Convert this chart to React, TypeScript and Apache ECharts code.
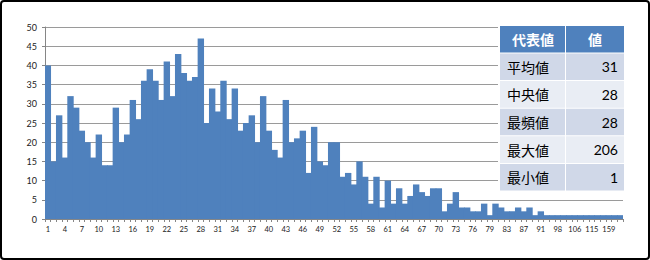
import React, { useEffect, useRef } from "react";
import * as echarts from "echarts";

const categories = [
  "1","2","3","4","5","6","7","8","9","10","11","12","13","14","15","16","17","18","19","20",
  "21","22","23","24","25","26","27","28","29","30","31","32","33","34","35","36","37","38","39","40",
  "41","42","43","44","45","46","47","48","49","50","51","52","53","54","55","56","57","58","59","60",
  "61","62","63","64","65","66","67","68","69","70","71","72","73","74","75","76","77","78","79",
  "80","81","83","84","86","87","89","90","91","93","95","98","100","103","106","108","111","115",
  "121","133","159","180","206",
];

const counts = [
  40, 15, 27, 16, 32, 29, 23, 20, 16, 22, 14, 14, 29, 20, 22, 31, 26, 36, 39, 36,
  31, 41, 32, 43, 38, 36, 37, 47, 25, 34, 28, 36, 26, 34, 23, 25, 27, 20, 32, 23,
  18, 16, 31, 20, 21, 23, 12, 24, 15, 14, 20, 20, 11, 12, 9, 15, 11, 4, 11, 3,
  10, 4, 8, 4, 6, 9, 7, 6, 8, 8, 2, 4, 7, 3, 3, 2, 2, 4, 1,
  4, 3, 2, 2, 3, 2, 3, 1, 2, 1, 1, 1, 1, 1, 1, 1, 1, 1,
  1, 1, 1, 1, 1,
];

const yTicks = [0, 50, 5]; // min, max, interval

const tableHeader = ["代表値", "値"];
const statNames = ["平均値", "中央値", "最頻値", "最大値", "最小値"];
const statValues = [31, 28, 28, 206, 1];

const BLUE = "#4F81BD";
const ROW_DARK = "#D0D8E8";
const ROW_LIGHT = "#E9EDF4";
const JP_FONT = '"Noto Sans CJK JP", "Noto Sans", sans-serif';
const NUM_FONT = 'Lato, "Liberation Sans", sans-serif';

function buildTable(): any[] {
  const x0 = 500;
  const c1w = 66;
  const c2w = 58;
  const headY = 26;
  const headH = 26.5;
  const rowH = 27.6;
  const els: any[] = [];
  els.push({
    type: "rect",
    shape: { x: x0 - 2, y: headY - 1, width: c1w + c2w + 3, height: headH + rowH * statNames.length + 3 },
    style: { fill: "#fff" },
    z: 100,
  });
  els.push({ type: "rect", shape: { x: x0, y: headY, width: c1w - 1, height: headH }, style: { fill: BLUE }, z: 101 });
  els.push({ type: "rect", shape: { x: x0 + c1w, y: headY, width: c2w, height: headH }, style: { fill: BLUE }, z: 101 });
  els.push({
    type: "text", z: 102,
    style: { text: tableHeader[0], x: x0 + c1w / 2, y: headY + headH / 2, fill: "#fff", fontSize: 14, fontWeight: "bold", fontFamily: JP_FONT, textAlign: "center", textVerticalAlign: "middle" },
  });
  els.push({
    type: "text", z: 102,
    style: { text: tableHeader[1], x: x0 + c1w + c2w / 2, y: headY + headH / 2, fill: "#fff", fontSize: 14, fontWeight: "bold", fontFamily: JP_FONT, textAlign: "center", textVerticalAlign: "middle" },
  });
  statNames.forEach((name, i) => {
    const y = headY + headH + 1 + i * rowH;
    const fill = i % 2 === 0 ? ROW_DARK : ROW_LIGHT;
    els.push({ type: "rect", shape: { x: x0, y, width: c1w - 1, height: rowH - 1 }, style: { fill }, z: 101 });
    els.push({ type: "rect", shape: { x: x0 + c1w, y, width: c2w, height: rowH - 1 }, style: { fill }, z: 101 });
    els.push({
      type: "text", z: 102,
      style: { text: name, x: x0 + 7, y: y + (rowH - 1) / 2, fill: "#000", fontSize: 14, fontFamily: JP_FONT, textAlign: "left", textVerticalAlign: "middle" },
    });
    els.push({
      type: "text", z: 102,
      style: { text: String(statValues[i]), x: x0 + c1w + c2w - 6, y: y + (rowH - 1) / 2, fill: "#000", fontSize: 14, fontFamily: NUM_FONT, textAlign: "right", textVerticalAlign: "middle" },
    });
  });
  return els;
}

export default function App() {
  const ref = useRef<HTMLDivElement>(null);
  useEffect(() => {
    if (!ref.current) return;
    const chart = echarts.init(ref.current, undefined, { renderer: "svg" });
    chart.setOption({
      animation: false,
      backgroundColor: "#fff",
      grid: { left: 45, right: 27, top: 27, bottom: 41, containLabel: false },
      xAxis: {
        type: "category",
        data: categories,
        boundaryGap: true,
        axisLine: { show: true, lineStyle: { color: "#868686", width: 1 } },
        axisTick: { show: true, interval: 0, length: 3, lineStyle: { color: "#868686" } },
        axisLabel: { interval: 2, fontSize: 7.5, color: "#222", fontFamily: NUM_FONT, margin: 6 },
        splitLine: { show: false },
      },
      yAxis: {
        type: "value",
        min: yTicks[0],
        max: yTicks[1],
        interval: yTicks[2],
        axisLine: { show: true, lineStyle: { color: "#868686", width: 1 } },
        axisTick: { show: true, length: 3, lineStyle: { color: "#868686" } },
        axisLabel: { fontSize: 9, color: "#222", fontFamily: NUM_FONT, margin: 8 },
        splitLine: { show: true, lineStyle: { color: "#9a9a9a", width: 1 } },
      },
      series: [
        {
          type: "bar",
          data: counts,
          barWidth: 6.4,
          barGap: 0,
          itemStyle: { color: BLUE },
        },
      ],
      graphic: [
        ...buildTable(),
        {
          type: "rect",
          shape: { x: 1, y: 1, width: 648, height: 258, r: 3 },
          style: { fill: "none", stroke: "#000", lineWidth: 2 },
          z: 200,
        },
      ],
    });
    return () => chart.dispose();
  }, []);
  return (
    <div style={{ position: "fixed", left: 0, top: 0, width: 650, height: 260 }}>
      <div ref={ref} style={{ width: 650, height: 260 }} />
    </div>
  );
}
